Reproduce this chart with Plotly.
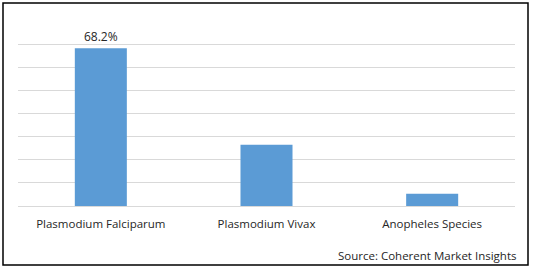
import plotly.graph_objects as go

categories = ["Plasmodium Falciparum", "Plasmodium Vivax", "Anopheles Species"]
values = [68.2, 26.5, 5.3]
labels = ["68.2%", "", ""]

W, H = 533, 270
L, R, T, B = 18, 18, 21, 64
pw, ph = W - L - R, H - T - B

def px(x):
    return (x - L) / pw

def py(y):
    return (H - B - y) / ph

fig = go.Figure(go.Bar(
    x=categories, y=values, text=labels, textposition="outside",
    textfont=dict(size=12, color="#262626", family="Open Sans"),
    marker=dict(color="#5B9BD5", line=dict(width=0)),
    width=0.314, cliponaxis=False,
))

fig.update_layout(
    width=W, height=H,
    margin=dict(l=L, r=R, t=T, b=B),
    paper_bgcolor="white", plot_bgcolor="white",
    font=dict(family="Open Sans", size=11.5, color="#262626"),
    showlegend=False,
    bargap=0.686,
    xaxis=dict(showgrid=False, showline=False, ticks="", zeroline=False,
               ticklabelstandoff=9,
               tickfont=dict(size=11.5, color="#262626")),
    yaxis=dict(range=[0, 80], dtick=10, showticklabels=False, showgrid=True,
               gridcolor="#D9D9D9", gridwidth=1, zeroline=True,
               zerolinecolor="#D9D9D9", zerolinewidth=1, showline=False),
    shapes=[dict(type="rect", xref="paper", yref="paper",
                 x0=px(3), x1=px(528), y0=py(265), y1=py(3),
                 line=dict(color="black", width=1.5), layer="above")],
    annotations=[dict(text="Source: Coherent Market Insights", xref="paper", yref="paper",
                      x=px(518), y=py(255), xanchor="right", yanchor="middle",
                      showarrow=False, font=dict(size=11.5, color="#262626"))],
)

fig.write_html("out.html")
